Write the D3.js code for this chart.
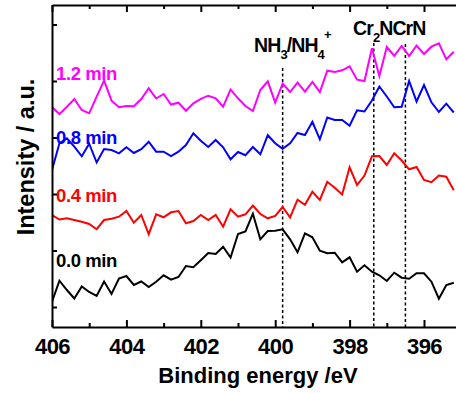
<!DOCTYPE html>
<html>
<head>
<meta charset="utf-8">
<script src="https://cdn.jsdelivr.net/npm/d3@7"></script>
<style>
    body { margin: 0; background: #fff; }
    text { font-family: "Liberation Sans", Arial, sans-serif; font-weight: bold; }
</style>
</head>
<body>
<div id="wrapper"></div>
<script>
const energy = [406.0, 405.8, 405.6, 405.4, 405.2, 405.0, 404.8, 404.6, 404.4, 404.2,
    404.0, 403.8, 403.6, 403.4, 403.2, 403.0, 402.8, 402.6, 402.4, 402.2,
    402.0, 401.8, 401.6, 401.4, 401.2, 401.0, 400.8, 400.6, 400.4, 400.2,
    400.0, 399.8, 399.6, 399.4, 399.2, 399.0, 398.8, 398.6, 398.4, 398.2,
    398.0, 397.8, 397.6, 397.4, 397.2, 397.0, 396.8, 396.6, 396.4, 396.2,
    396.0, 395.8, 395.6, 395.4, 395.2];

const min00 = [25.3, 46.3, 37, 28.5, 40.5, 35, 31, 45.5, 33, 48.5,
    51, 42, 45.5, 40, 45.3, 51.7, 47.3, 50, 61, 59.7,
    66.7, 74, 73, 80.3, 69.5, 93, 95.5, 113.3, 87.7, 96,
    96.3, 97.7, 87.7, 74.7, 93.7, 89.7, 76.3, 73.7, 74.3, 64.7,
    69.7, 55.3, 61.7, 55.3, 51.7, 46, 54.3, 49.3, 48.3, 53.7,
    53.7, 45.3, 28.3, 42, 44.3];

const min04 = [112, 107.5, 108.8, 107, 105.3, 103, 97.8, 107, 108.2, 110.3,
    116, 104.3, 112, 92.8, 112.7, 109.7, 114.7, 116, 103.7, 106,
    112, 107, 112, 100.3, 117.7, 110.3, 112.7, 121.5, 113, 108.7,
    111, 120, 109.5, 127.3, 122.2, 135.2, 127, 145.2, 139.2, 132.5,
    159.8, 142, 151.5, 170.7, 171, 162, 173.7, 166.5, 157.7, 160,
    147, 144.8, 151.5, 150.3, 136.7];

const min08 = [157, 183.7, 188.7, 180.3, 170.7, 183.3, 164.5, 178, 177, 173.7,
    179.7, 174, 177.8, 185.3, 175.3, 175.3, 171, 175.3, 182, 193.7,
    186.2, 180, 187, 179.7, 167.7, 175, 171.8, 180, 172.7, 191.8,
    183.7, 178.3, 183.7, 194, 192, 205.2, 187.7, 209.5, 207, 207,
    201.3, 216.7, 215.5, 226.5, 240.5, 230.5, 219.8, 220.3, 246, 225.5,
    242, 224.7, 215, 223.3, 214.5];

const min12 = [220, 212.8, 220.3, 228, 217, 213.7, 230.3, 246.3, 226.3, 219.7,
    221, 220.7, 228, 238.7, 228.5, 233, 222.5, 224.3, 216.3, 223.7,
    228.2, 231.3, 228.7, 220.3, 237.3, 228.7, 221, 216, 237, 245.7,
    224.3, 243.3, 235, 244.3, 235.3, 245, 234.8, 256.3, 255, 256.7,
    260.7, 247.3, 246, 278.7, 251, 280, 271.2, 281, 271, 281.5,
    273, 280.3, 283.7, 267.7, 275.3];

const seriesNames = ["0.0 min", "0.4 min", "0.8 min", "1.2 min"];
const seriesColors = ["#000000", "#ff0000", "#0000ff", "#ff00ff"];

// reference positions (eV) and top of the dashed marker (a.u.)
const peakEnergy = [399.8, 397.35, 396.5];
const peakTop = [259, 284, 283];

const xMajorTicks = [406, 404, 402, 400, 398, 396];
const xMinorTicks = [405, 403, 401, 399, 397];
const yTicks = [20, 76.5, 133, 189.5, 246, 302.5];

function buildPlot() {
    const dimension = {
        width: 456,
        height: 393,
        left: 52,
        top: 5,
        bottom: 327,
        right: 461.2
    };

    const svg = d3.select("#wrapper").append("svg")
        .attr("width", dimension.width)
        .attr("height", dimension.height);

    const x = d3.scaleLinear()
        .domain([406, 395])
        .range([dimension.left, dimension.right]);

    const y = d3.scaleLinear()
        .domain([0, 322])
        .range([dimension.bottom, dimension.top]);

    svg.append("clipPath").attr("id", "plotclip")
        .append("rect")
        .attr("x", dimension.left)
        .attr("y", dimension.top)
        .attr("width", dimension.right - dimension.left)
        .attr("height", dimension.bottom - dimension.top);

    const plot = svg.append("g").attr("clip-path", "url(#plotclip)");

    // dashed reference lines
    plot.selectAll("line.peak")
        .data(peakEnergy)
        .enter()
        .append("line")
        .attr("class", "peak")
        .attr("x1", (d) => x(d))
        .attr("x2", (d) => x(d))
        .attr("y1", (d, i) => y(peakTop[i]))
        .attr("y2", y(0))
        .attr("stroke", "#000")
        .attr("stroke-width", 1.5)
        .attr("stroke-dasharray", "3,2.5");

    const seriesData = [min00, min04, min08, min12];

    const line = d3.line()
        .x((d, i) => x(energy[i]))
        .y((d) => y(d));

    plot.selectAll("path.spectrum")
        .data(seriesData)
        .enter()
        .append("path")
        .attr("class", "spectrum")
        .attr("d", line)
        .attr("fill", "none")
        .attr("stroke", (d, i) => seriesColors[i])
        .attr("stroke-width", 2)
        .attr("stroke-linejoin", "miter");

    // bottom axis
    const xAxis = svg.append("g")
        .attr("transform", `translate(0,${dimension.bottom})`)
        .call(d3.axisBottom(x).tickValues(xMajorTicks).tickSizeInner(-7).tickSizeOuter(0).tickPadding(11).tickFormat(d3.format("d")));
    xAxis.select(".domain").attr("stroke-width", 2);
    xAxis.selectAll(".tick line").attr("stroke-width", 2);
    xAxis.selectAll(".tick text")
        .attr("font-size", 22)
        .attr("fill", "#000")
        .attr("font-family", "Liberation Sans, Arial, sans-serif")
        .attr("font-weight", "bold")
        .attr("letter-spacing", -0.5);

    svg.append("g")
        .attr("transform", `translate(0,${dimension.bottom})`)
        .call(d3.axisBottom(x).tickValues(xMinorTicks).tickSize(-4).tickFormat(""))
        .call((g) => g.select(".domain").remove())
        .selectAll(".tick line").attr("stroke-width", 2);

    // top axis
    const topAxis = svg.append("g")
        .attr("transform", `translate(0,${dimension.top})`)
        .call(d3.axisTop(x).tickValues(xMajorTicks).tickSizeInner(-7).tickSizeOuter(0).tickFormat(""));
    topAxis.select(".domain").attr("stroke-width", 2);
    topAxis.selectAll(".tick line").attr("stroke-width", 2);

    svg.append("g")
        .attr("transform", `translate(0,${dimension.top})`)
        .call(d3.axisTop(x).tickValues(xMinorTicks).tickSize(-4).tickFormat(""))
        .call((g) => g.select(".domain").remove())
        .selectAll(".tick line").attr("stroke-width", 2);

    // left axis
    const yAxis = svg.append("g")
        .attr("transform", `translate(${dimension.left},0)`)
        .call(d3.axisLeft(y).tickValues(yTicks).tickSizeInner(-5).tickSizeOuter(0).tickFormat(""));
    yAxis.select(".domain").attr("stroke-width", 2);
    yAxis.selectAll(".tick line").attr("stroke-width", 2);

    // series labels
    const labelBaseline = [267, 201.5, 143.5, 79.5];
    svg.selectAll("text.series")
        .data(seriesNames)
        .enter()
        .append("text")
        .attr("class", "series")
        .attr("x", 56)
        .attr("y", (d, i) => labelBaseline[i])
        .attr("font-size", 18.5)
        .attr("letter-spacing", -0.4)
        .attr("fill", (d, i) => seriesColors[i])
        .text((d) => d);

    // peak annotations
    const nh = svg.append("text")
        .attr("x", 254)
        .attr("y", 52)
        .attr("font-size", 19.5)
        .attr("letter-spacing", -0.9);
    nh.append("tspan").text("NH");
    nh.append("tspan").attr("font-size", 13).attr("dy", 7).text("3");
    nh.append("tspan").attr("dy", -7).text("/NH");
    nh.append("tspan").attr("font-size", 13).attr("dy", 7).text("4");
    nh.append("tspan").attr("font-size", 13).attr("dy", -20).text("+");

    const cr = svg.append("text")
        .attr("x", 353)
        .attr("y", 34.5)
        .attr("font-size", 19.5)
        .attr("letter-spacing", -0.9);
    cr.append("tspan").text("Cr");
    cr.append("tspan").attr("font-size", 13).attr("dy", 7).text("2");
    cr.append("tspan").attr("dy", -7).text("NCrN");

    // axis titles
    svg.append("text")
        .attr("x", 258)
        .attr("y", 383)
        .attr("text-anchor", "middle")
        .attr("font-size", 22)
        .text("Binding energy /eV");

    svg.append("text")
        .attr("transform", "translate(34,157) rotate(-90)")
        .attr("text-anchor", "middle")
        .attr("font-size", 23.5)
        .text("Intensity / a.u.");
}

buildPlot();
</script>
</body>
</html>
